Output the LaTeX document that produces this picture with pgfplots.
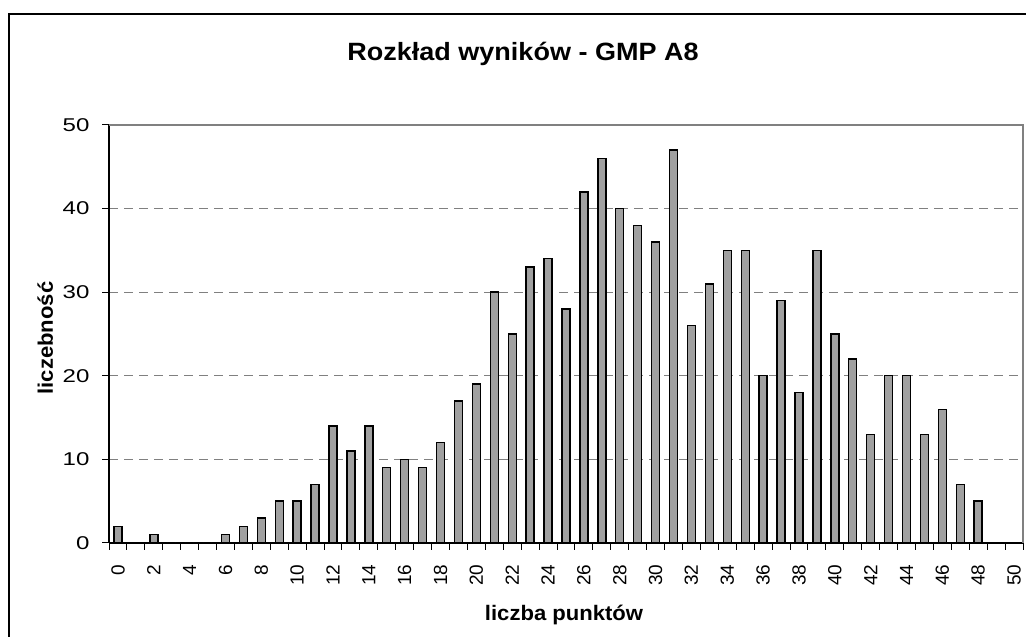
\documentclass[border=0pt]{standalone}
\usepackage{pgfplots}
\pgfplotsset{compat=1.18}
\usepackage{fontspec}
\setmainfont{Liberation Sans}
\newfontfamily\ytfont[FakeStretch=1.3]{Liberation Sans}
\newfontfamily\titlefont[FakeStretch=1.08]{Liberation Sans}
\newfontfamily\labfont[FakeStretch=1.05]{Liberation Sans}
\definecolor{barfill}{RGB}{160,160,160}
\definecolor{gridc}{RGB}{128,128,128}
\begin{document}
\begin{tikzpicture}[x=1pt,y=1pt]
\path[use as bounding box] (0,0) rectangle (1026,637);
\draw[line width=2.2pt] (9,0) -- (9,623) -- (1026,623);
\begin{axis}[
  at={(109pt,94pt)}, anchor=south west,
  width=914pt, height=418pt, scale only axis,
  xmin=-0.5, xmax=50.5, ymin=0, ymax=50,
  ybar, bar width=8pt,
  axis x line*=bottom, axis y line*=left,
  axis line style={black, line width=1.2pt},
  xtick={-0.5,0.5,...,50.5}, xticklabels={},
  extra x ticks={0,2,4,6,8,10,12,14,16,18,20,22,24,26,28,30,32,34,36,38,40,42,44,46,48,50},
  extra x tick labels={0,2,4,6,8,10,12,14,16,18,20,22,24,26,28,30,32,34,36,38,40,42,44,46,48,50},
  extra x tick style={major tick length=0pt, grid=none,
     tick label style={yshift=-18pt, rotate=90, anchor=east, font=\fontsize{19}{20}\selectfont}},
  ytick={0,10,20,30,40,50},
  yticklabel style={xshift=-9pt, font=\ytfont\fontsize{18.5}{20}\selectfont},
  tick align=outside,
  major tick length=7pt,
  tick style={black, line width=1pt},
  ymajorgrids,
  grid style={gridc, line width=1.3pt, dash pattern=on 9pt off 6pt},
  /pgf/number format/assume math mode=true,
  clip=false,
]
\addplot[fill=barfill, draw=black, line width=1.4pt] coordinates {
(0,2) (1,0) (2,1) (3,0) (4,0) (5,0) (6,1) (7,2) (8,3) (9,5)
(10,5) (11,7) (12,14) (13,11) (14,14) (15,9) (16,10) (17,9) (18,12) (19,17)
(20,19) (21,30) (22,25) (23,33) (24,34) (25,28) (26,42) (27,46) (28,40) (29,38)
(30,36) (31,47) (32,26) (33,31) (34,35) (35,35) (36,20) (37,29) (38,18) (39,35)
(40,25) (41,22) (42,13) (43,20) (44,20) (45,13) (46,16) (47,7) (48,5) (49,0) (50,0)
};
\draw[gridc, line width=1.2pt] (rel axis cs:0,1) -- (rel axis cs:1,1) -- (rel axis cs:1,0);
\end{axis}
\node[font=\titlefont\bfseries\fontsize{25}{28}\selectfont, anchor=base] at (523,576) {Rozkład wyników - GMP A8};
\node[font=\labfont\bfseries\fontsize{21}{24}\selectfont, anchor=base] at (564,16) {liczba punktów};
\node[font=\labfont\bfseries\fontsize{21}{24}\selectfont, anchor=base, rotate=90] at (53,299) {liczebność};
\end{tikzpicture}
\end{document}
